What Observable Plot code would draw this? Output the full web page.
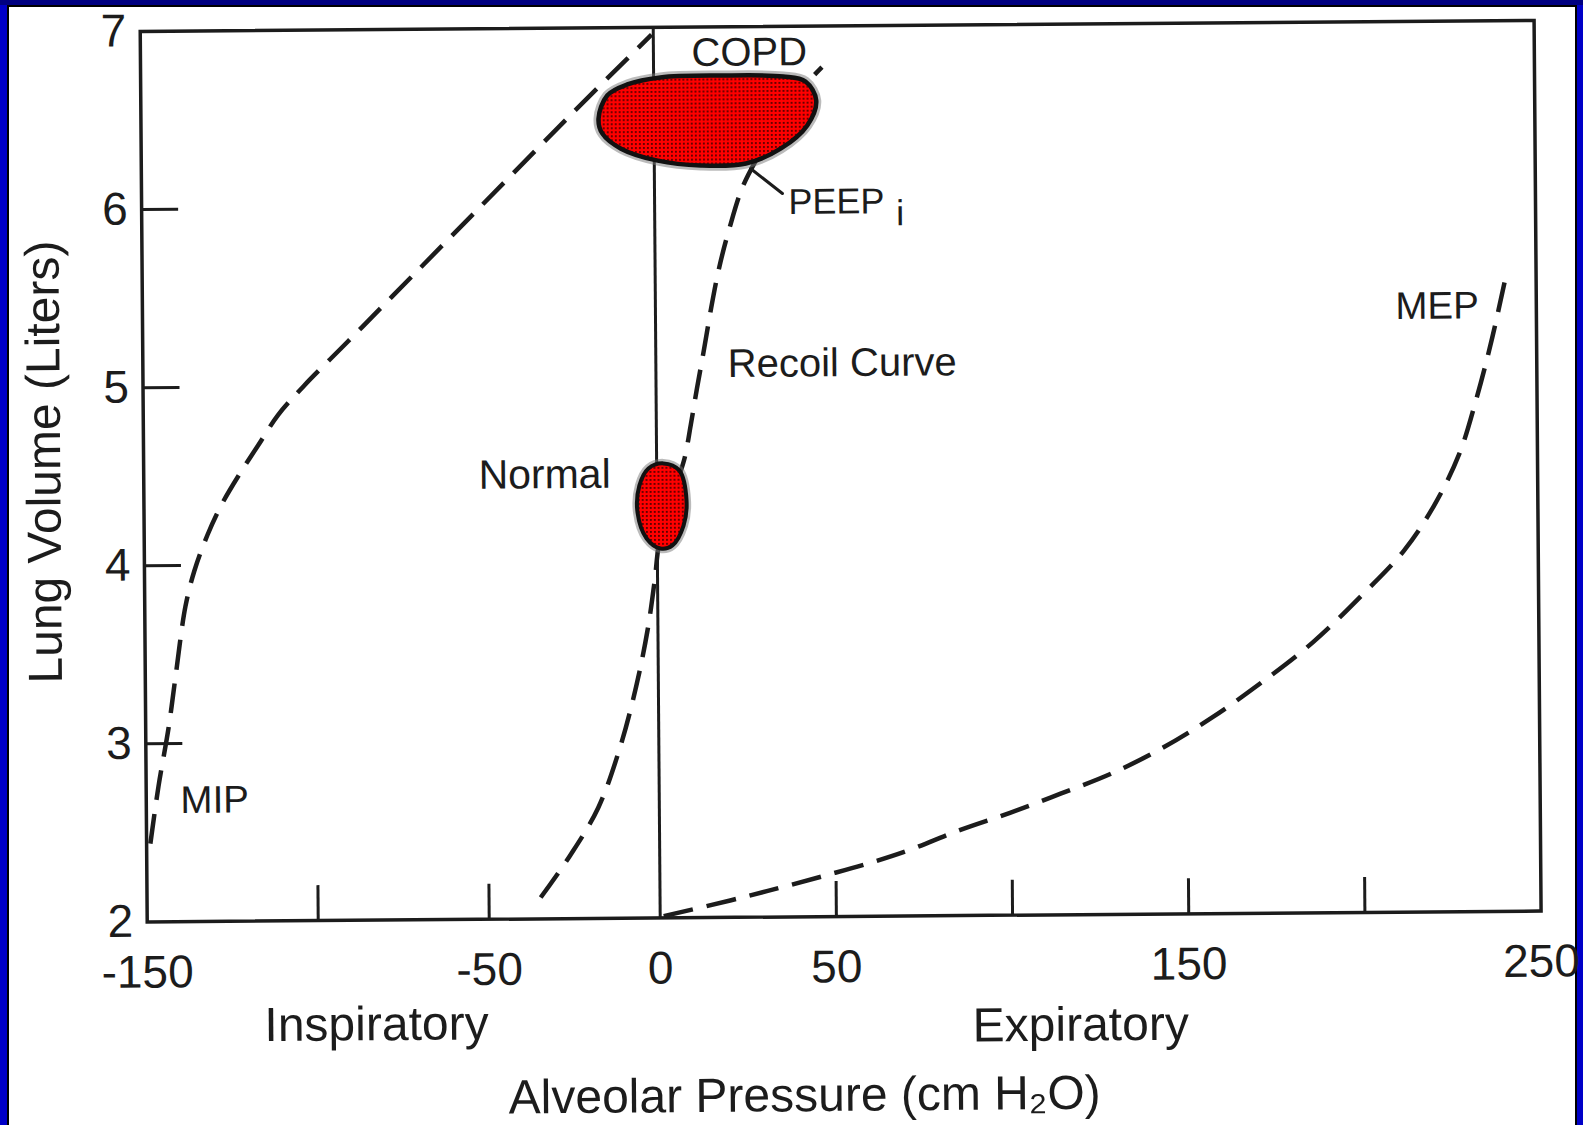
<!DOCTYPE html>
<html><head><meta charset="utf-8">
<script src="https://cdn.jsdelivr.net/npm/d3@7"></script>
<script src="https://cdn.jsdelivr.net/npm/@observablehq/plot@0.6"></script>
<style>
html,body{margin:0;padding:0;width:1583px;height:1125px;overflow:hidden;background:#0000c8;}
#topbar{position:absolute;left:0;top:0;width:1583px;height:5px;background:#000080;}
#sheet{position:absolute;left:7px;top:5px;width:1570px;height:1125px;background:#fff;border-left:2px solid #000;border-right:2px solid #000;border-top:2px solid #000;box-sizing:border-box;}
#chart{position:absolute;left:0;top:0;width:1583px;height:1125px;transform-origin:841px 471px;transform:rotate(-0.45deg);}
</style></head><body>
<div id="topbar"></div><div id="sheet"></div><div id="chart"></div>
<script>
// ---- data (pressure in cm H2O, volume in liters) ----
const xLabelTicks = [-150, -50, 0, 50, 150, 250];
const xMinorTicks = [-100, -50, 50, 100, 150, 200];
const yLabelTicks = [2, 3, 4, 5, 6, 7];
const yMinorTicks = [3, 4, 5, 6];

const mipX = [-148.9, -146.4, -143.3, -141.2, -138.1, -135.4, -131.5, -127.3, -122, -116.5, -110.6, -103.1, -90, -77, -51, -25, -0.5];
const mipY = [2.44, 2.76, 3.09, 3.37, 3.77, 3.97, 4.17, 4.34, 4.51, 4.67, 4.84, 5.0, 5.25, 5.5, 6.0, 6.5, 6.96];

const recoilX = [-34.9, -26, -17.9, -11.5, -6.5, -3, -0.8, 0.5, 4, 7.8, 9.8, 11.6, 13.7, 15.8, 18.2, 21.2, 25, 30, 35.2, 41, 45.3, 47.8];
const recoilY = [2.12, 2.36, 2.62, 2.95, 3.30, 3.62, 3.90, 4.1, 4.35, 4.57, 4.77, 4.97, 5.19, 5.42, 5.65, 5.87, 6.10, 6.29, 6.47, 6.63, 6.72, 6.77];

const mepX = [1, 19.9, 34.2, 47.9, 60.7, 70.8, 85.2, 99.5, 113.9, 128.3, 142.7, 157, 171.5, 185.9, 200.3, 211.9, 220.5, 227.8, 232.8, 237.4, 241.8];
const mepY = [2.01, 2.095, 2.165, 2.236, 2.306, 2.37, 2.48, 2.575, 2.68, 2.79, 2.93, 3.10, 3.30, 3.52, 3.79, 4.03, 4.28, 4.57, 4.88, 5.22, 5.60];

const copdX = [-16.2, -13.6, -7.7, 1.9, 19.0, 36.8, 43.1, 46.1, 43.5, 36.0, 26.0, 13.2, 1.0, -9.7, -15.1];
const copdY = [6.491, 6.620, 6.681, 6.719, 6.727, 6.719, 6.690, 6.583, 6.443, 6.315, 6.232, 6.223, 6.252, 6.321, 6.406];

const normalX = [1.9, 6.4, 8.4, 7.5, 4.3, 0.9, -3.1, -5.7, -5.1, -2.4];
const normalY = [4.552, 4.512, 4.343, 4.202, 4.091, 4.074, 4.131, 4.277, 4.428, 4.524];

const peepLeaderX = [27.3, 36.3];
const peepLeaderY = [6.204, 6.062];

// annotation labels and their anchor points in data units
const noteText = ["COPD", "PEEP", "i", "Recoil Curve", "Normal", "MEP", "MIP"];
const noteX = [27.2, 38.0, 68.5, 20.4, -52.1, 210, -140];
const noteY = [6.782, 5.947, 5.879, 5.034, 4.418, 5.331, 2.611];

const axisText = ["Inspiratory", "Expiratory", "Alveolar Pressure (cm H\u2082O)"];
const axisTextX = [-83.2, 119.1, 40.6];
const axisTextY = [1.326, 1.293, 0.909];
const yTitle = "Lung Volume (Liters)";
const yTitleX = -174.4, yTitleY = 4.586;

// ---- build ----
const pts = (xs, ys) => xs.map((x, i) => ({x, y: ys[i]}));
const notes = noteText.map((t, i) => ({t, x: noteX[i], y: noteY[i]}));
const axisNotes = axisText.map((t, i) => ({t, x: axisTextX[i], y: axisTextY[i]}));

const ink = "#1c1c1c";
const W = 1583, H = 1125, L = 143.2, Z = 656.2, R = 1537.1, T = 25.5, B = 916;
const dash = {stroke: ink, strokeWidth: 4.5, strokeDasharray: "30,14", strokeLinecap: "butt", curve: "catmull-rom"};
const FILLKEY = "#fe0001";

const svg = Plot.plot({
  width: W, height: H,
  marginLeft: L, marginRight: W - R, marginTop: T, marginBottom: H - B,
  style: {background: "transparent", overflow: "visible", fontFamily: "'Liberation Sans', Arial, sans-serif", color: ink},
  x: {type: "linear", domain: [-150, 0, 250], range: [L, Z, R], label: null},
  y: {type: "linear", domain: [2, 7], range: [B, T], label: null},
  marks: [
    Plot.ruleX(xMinorTicks, {stroke: ink, strokeWidth: 3, insetTop: (B - T) - 35}),
    Plot.ruleY(yMinorTicks, {stroke: ink, strokeWidth: 3, insetRight: (R - L) - 37}),
    Plot.ruleX([0], {stroke: ink, strokeWidth: 3}),
    Plot.frame({stroke: ink, strokeWidth: 3.5}),
    Plot.axisX(xLabelTicks, {tickSize: 0, tickPadding: 33, fontSize: 46, tickFormat: d => String(d), label: null}),
    Plot.axisY(yLabelTicks, {tickSize: 0, tickPadding: 14, fontSize: 46, tickFormat: d => String(d), label: null}),
    Plot.line(pts(mipX, mipY), {x: "x", y: "y", ...dash}),
    Plot.line(pts(recoilX, recoilY), {x: "x", y: "y", ...dash}),
    Plot.line(pts(mepX, mepY), {x: "x", y: "y", ...dash}),
    Plot.line(pts(peepLeaderX, peepLeaderY), {x: "x", y: "y", stroke: ink, strokeWidth: 3}),
    Plot.line(pts(copdX, copdY), {x: "x", y: "y", curve: "catmull-rom-closed", stroke: "#777", strokeOpacity: 0.5, strokeWidth: 10}),
    Plot.line(pts(copdX, copdY), {x: "x", y: "y", curve: "catmull-rom-closed", fill: FILLKEY, stroke: "#111", strokeWidth: 4.5}),
    Plot.line(pts(normalX, normalY), {x: "x", y: "y", curve: "catmull-rom-closed", stroke: "#777", strokeOpacity: 0.5, strokeWidth: 9}),
    Plot.line(pts(normalX, normalY), {x: "x", y: "y", curve: "catmull-rom-closed", fill: FILLKEY, stroke: "#111", strokeWidth: 4}),
    Plot.text(notes.filter(d => d.t === "COPD"), {x: "x", y: "y", text: "t", fontSize: 40, textAnchor: "middle", lineAnchor: "bottom", fill: ink}),
    Plot.text(notes.filter(d => d.t === "PEEP" || d.t === "i"), {x: "x", y: "y", text: "t", fontSize: 36, textAnchor: "start", lineAnchor: "bottom", fill: ink}),
    Plot.text(notes.filter(d => d.t === "Recoil Curve"), {x: "x", y: "y", text: "t", fontSize: 40, textAnchor: "start", lineAnchor: "bottom", fill: ink}),
    Plot.text(notes.filter(d => d.t === "Normal"), {x: "x", y: "y", text: "t", fontSize: 41, textAnchor: "start", lineAnchor: "bottom", fill: ink}),
    Plot.text(notes.filter(d => d.t === "MEP" || d.t === "MIP"), {x: "x", y: "y", text: "t", fontSize: 38.5, textAnchor: "start", lineAnchor: "bottom", fill: ink}),
    Plot.text(axisNotes, {x: "x", y: "y", text: "t", fontSize: 48, textAnchor: "middle", lineAnchor: "bottom", fill: ink}),
    Plot.text([yTitle], {x: () => yTitleX, y: () => yTitleY, text: d => d, rotate: -90, fontSize: 48, textAnchor: "middle", lineAnchor: "bottom", fill: ink})
  ]
});

const ns = "http://www.w3.org/2000/svg";
const defs = document.createElementNS(ns, "defs");
defs.innerHTML = '<pattern id="dots" width="4" height="4" patternUnits="userSpaceOnUse"><rect width="4" height="4" fill="#ff0000"/><rect x="1.2" y="1.2" width="1.5" height="1.5" fill="#000"/></pattern>';
svg.insertBefore(defs, svg.firstChild);
svg.querySelectorAll("*").forEach(el => { if (el.getAttribute("fill") === FILLKEY) el.setAttribute("fill", "url(#dots)"); });
document.getElementById("chart").appendChild(svg);
</script>
</body></html>
